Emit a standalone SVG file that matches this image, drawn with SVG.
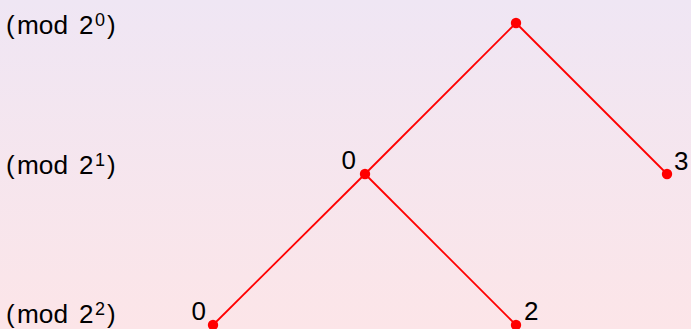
<svg xmlns="http://www.w3.org/2000/svg" width="691" height="329" viewBox="0 0 691 329">
<defs>
<linearGradient id="bg" x1="0" y1="0" x2="0" y2="1">
<stop offset="0" stop-color="#efe6f4"/>
<stop offset="1" stop-color="#fce5e8"/>
</linearGradient>
<style>
text{font-family:"Liberation Sans",Arial,sans-serif;fill:#000;}
.lbl{font-size:26px;}
.sup{font-size:18px;}
.num{font-size:26px;}
.edge{stroke:#ff0000;stroke-width:1.8;fill:none;}
.dot{fill:#ff0000;}
</style>
</defs>
<rect x="0" y="0" width="691" height="329" fill="url(#bg)"/>
<g id="levels">
<g id="level0"><text class="lbl" x="6" y="34">(</text><text class="lbl" x="17" y="34" textLength="51" lengthAdjust="spacingAndGlyphs">mod</text><text class="lbl" x="79" y="34">2</text><text class="sup" x="95" y="26">0</text><text class="lbl" x="107" y="34">)</text></g>
<g id="level1"><text class="lbl" x="6" y="174">(</text><text class="lbl" x="17" y="174" textLength="51" lengthAdjust="spacingAndGlyphs">mod</text><text class="lbl" x="79" y="174">2</text><text class="sup" x="95" y="166">1</text><text class="lbl" x="107" y="174">)</text></g>
<g id="level2"><text class="lbl" x="6" y="323">(</text><text class="lbl" x="17" y="323" textLength="51" lengthAdjust="spacingAndGlyphs">mod</text><text class="lbl" x="79" y="323">2</text><text class="sup" x="95" y="315">2</text><text class="lbl" x="107" y="323">)</text></g>
</g>
<g id="connectors">
<line class="edge" x1="516" y1="23" x2="365" y2="174"/>
<line class="edge" x1="516" y1="23" x2="667" y2="174"/>
<line class="edge" x1="365" y1="174" x2="213" y2="325"/>
<line class="edge" x1="365" y1="174" x2="516" y2="325"/>
</g>
<g id="root"><circle class="dot" cx="516" cy="23" r="5.2"/></g>
<g id="n0"><circle class="dot" cx="365" cy="174" r="5.2"/><text class="num" x="356" y="169" text-anchor="end">0</text></g>
<g id="n3"><circle class="dot" cx="667" cy="174" r="5.2"/><text class="num" x="674" y="170">3</text></g>
<g id="n00"><circle class="dot" cx="213" cy="325" r="5.2"/><text class="num" x="206" y="320" text-anchor="end">0</text></g>
<g id="n2"><circle class="dot" cx="516" cy="325" r="5.2"/><text class="num" x="524" y="320">2</text></g>
</svg>
